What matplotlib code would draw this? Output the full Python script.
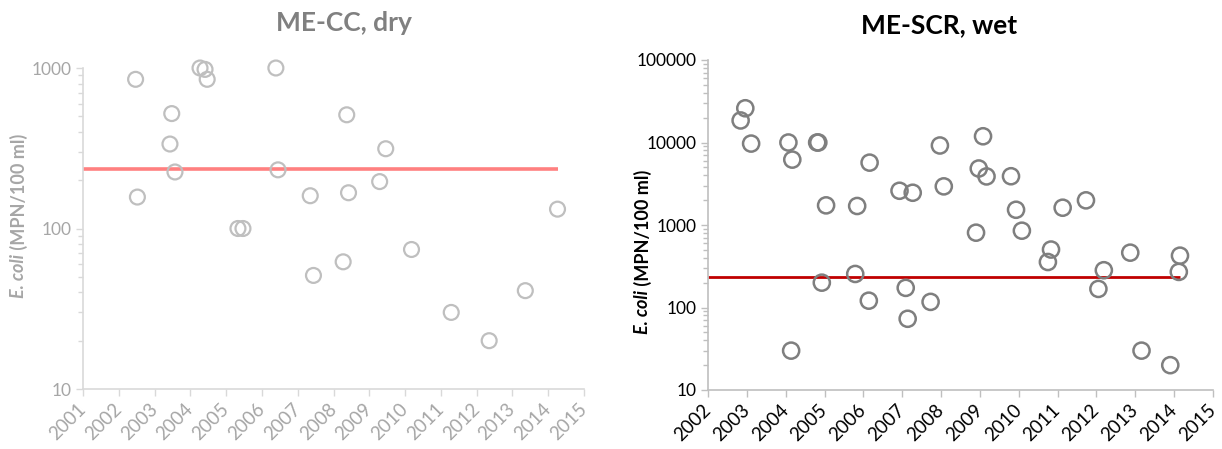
import matplotlib
matplotlib.use("Agg")
import matplotlib.pyplot as plt
import matplotlib.transforms as mtransforms
from matplotlib.ticker import LogLocator, FixedLocator, NullFormatter, FuncFormatter

plt.rcParams['font.family'] = ['Lato', 'DejaVu Sans']

# ME-CC, dry weather samples (decimal year, E. coli MPN/100 ml)
cc_years = [2002.47, 2002.52, 2003.48, 2003.43, 2003.57, 2004.27, 2004.41, 2004.47,
            2005.33, 2005.47, 2006.39, 2006.45, 2007.35, 2007.44, 2008.27, 2008.37,
            2008.42, 2009.29, 2009.46, 2010.18, 2011.29, 2012.35, 2013.36, 2014.26]
cc_ecoli = [850, 157, 520, 336, 225, 1000, 980, 850,
            100, 100, 1000, 232, 160, 51, 62, 511,
            167, 196, 314, 74, 30, 20, 41, 132]

# ME-SCR, wet weather samples
scr_years = [2002.84, 2002.96, 2003.11, 2004.07, 2004.17, 2004.14, 2004.81, 2004.84,
             2005.04, 2004.93, 2005.84, 2005.79, 2006.16, 2006.14, 2006.93, 2007.27,
             2007.09, 2007.14, 2007.73, 2007.97, 2008.07, 2008.90, 2008.97, 2009.08,
             2009.17, 2009.80, 2009.93, 2010.08, 2010.75, 2010.83, 2011.13, 2011.73,
             2012.05, 2012.19, 2012.87, 2013.16, 2013.90, 2014.12, 2014.15]
scr_ecoli = [18500, 26000, 9700, 10000, 6200, 30, 10000, 10000,
             1730, 200, 1700, 255, 5700, 121, 2600, 2460,
             173, 73, 117, 9200, 2940, 807, 4840, 11900,
             3880, 3900, 1530, 853, 356, 504, 1620, 1990,
             168, 283, 462, 30, 20, 270, 425]

# single-sample standard, drawn across the sampling period
std_value = 235
cc_std_span = [2001, 2014.28]
scr_std_span = [2002, 2014.15]

cc_xticks = list(range(2001, 2016))
scr_xticks = list(range(2002, 2016))

W, H = 1222, 449
fig = plt.figure(figsize=(W / 100, H / 100), dpi=100)
renderer = fig.canvas.get_renderer()


def style_axes(ax, xticks, ylim, axis_col, label_col):
    ax.set_yscale('log')
    ax.set_ylim(*ylim)
    ax.set_xlim(xticks[0], xticks[-1])
    ax.xaxis.set_major_locator(FixedLocator(xticks))
    ax.set_xticklabels([str(t) for t in xticks], rotation=45, ha='right',
                       rotation_mode='anchor')
    ax.yaxis.set_major_locator(LogLocator(base=10, numticks=10))
    ax.yaxis.set_minor_locator(LogLocator(base=10, subs=range(2, 10), numticks=10))
    ax.yaxis.set_minor_formatter(NullFormatter())
    ax.yaxis.set_major_formatter(FuncFormatter(lambda v, p: f"{int(round(v))}"))
    for s in ('top', 'right'):
        ax.spines[s].set_visible(False)
    for s in ('left', 'bottom'):
        ax.spines[s].set_color(axis_col)
        ax.spines[s].set_linewidth(1.2)
    ax.tick_params(axis='y', which='major', length=5, width=1.0, color=axis_col,
                   labelcolor=label_col, labelsize=12.5, pad=3)
    ax.tick_params(axis='x', which='major', length=5, width=1.0, color=axis_col,
                   labelcolor=label_col, labelsize=13.5, pad=3)
    ax.tick_params(axis='y', which='minor', length=3.5, width=1.0, color=axis_col)
    # nudge the slanted year labels so their ends sit just left of each tick
    shift = mtransforms.ScaledTranslation(-6 / 100, 0, fig.dpi_scale_trans)
    for lab in ax.get_xticklabels():
        lab.set_transform(lab.get_transform() + shift)


def vertical_label(xc, yc, color, size=13):
    """Rotated y label with an italic species name followed by the unit."""
    parts = [('E. coli', 'italic'), (' (MPN/100 ml)', 'normal')]
    texts = [fig.text(0, 0, s, rotation=90, fontsize=size, fontweight='bold',
                      fontstyle=st, color=color, ha='center', va='bottom')
             for s, st in parts]
    heights = [t.get_window_extent(renderer).height for t in texts]
    y = yc - sum(heights) / 2
    for t, h in zip(texts, heights):
        t.set_position((xc / W, y / H))
        y += h


# left panel: ME-CC, dry
ax1 = fig.add_axes([83 / W, 1 - 389 / H, (584 - 83) / W, (389 - 68) / H])
ax1.scatter(cc_years, cc_ecoli, s=115, facecolors='none', edgecolors='#BFBFBF',
            linewidths=1.6, zorder=3, clip_on=False)
ax1.plot(cc_std_span, [std_value, std_value], color='#FF8080', lw=2.6, zorder=2,
         solid_capstyle='butt')
style_axes(ax1, cc_xticks, (10, 1000), '#D9D9D9', '#A6A6A6')
fig.text(344 / W, 1 - 23 / H, 'ME-CC, dry', fontsize=19, fontweight='bold',
         color='#808080', ha='center', va='center')
vertical_label(19, H - 216, '#A6A6A6')

# right panel: ME-SCR, wet
ax2 = fig.add_axes([708 / W, 1 - 390 / H, (1213 - 708) / W, (390 - 60) / H])
ax2.scatter(scr_years, scr_ecoli, s=135, facecolors='none', edgecolors='#7F7F7F',
            linewidths=1.8, zorder=3, clip_on=False)
ax2.plot(scr_std_span, [std_value, std_value], color='#C00000', lw=2.0, zorder=2,
         solid_capstyle='butt')
style_axes(ax2, scr_xticks, (10, 100000), '#BFBFBF', '#000000')
fig.text(939 / W, 1 - 25 / H, 'ME-SCR, wet', fontsize=19, fontweight='bold',
         color='#000000', ha='center', va='center')
vertical_label(643, H - 252, '#000000')

fig.savefig('out.png', dpi=100)
